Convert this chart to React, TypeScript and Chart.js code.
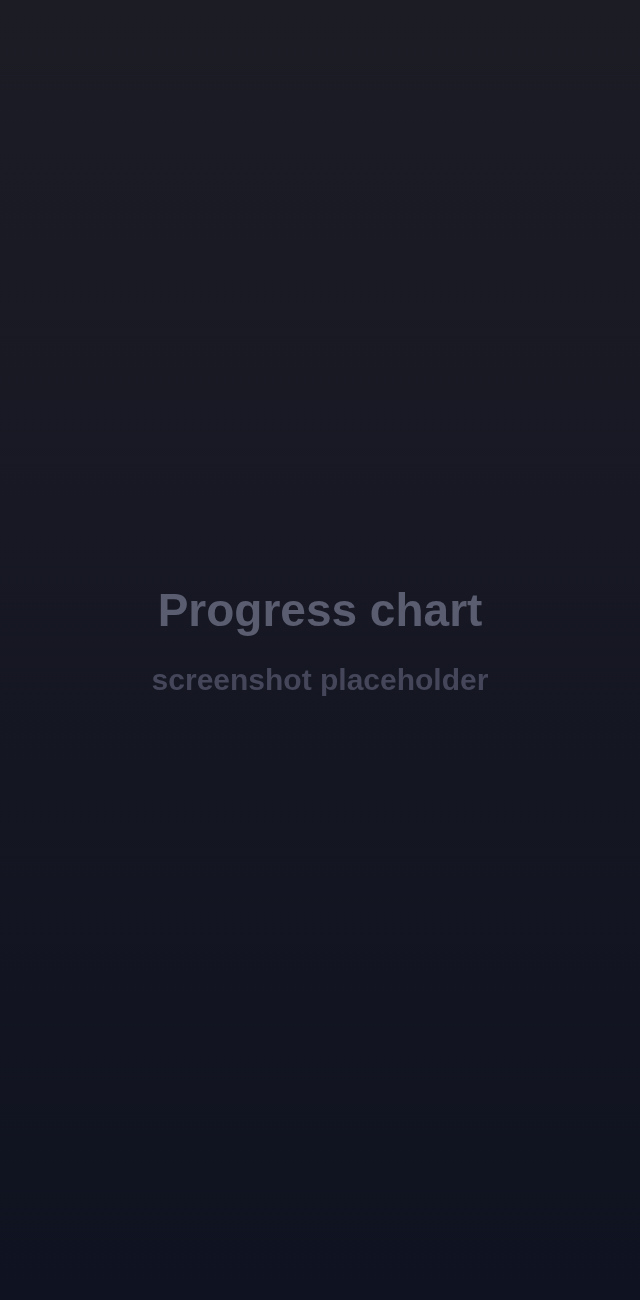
import { useEffect, useRef } from 'react';
import Chart from 'chart.js/auto';

// the reference is only a placeholder card: no series are drawn yet
const categories: string[] = [];
const progressValues: number[] = [];

const titleText = 'Progress chart';
const subtitleText = 'screenshot placeholder';

const bgTop = '#1c1c25';
const bgBottom = '#0f1220';

const backgroundPlugin = {
  id: 'gradientBackground',
  beforeDraw(chart: Chart) {
    const { ctx, width, height } = chart;
    const grad = ctx.createLinearGradient(0, 0, 0, height);
    grad.addColorStop(0, bgTop);
    grad.addColorStop(1, bgBottom);
    ctx.save();
    ctx.fillStyle = grad;
    ctx.fillRect(0, 0, width, height);
    ctx.restore();
  },
};

export default function App() {
  const chartRef = useRef<HTMLCanvasElement>(null);

  useEffect(() => {
    document.body.style.margin = '0';
    document.body.style.background = bgBottom;
    if (!chartRef.current) return;

    const chart = new Chart(chartRef.current, {
      type: 'bar',
      data: {
        labels: categories,
        datasets: [{ label: 'Progress', data: progressValues }],
      },
      options: {
        responsive: true,
        maintainAspectRatio: false,
        animation: false,
        scales: {
          x: { display: false },
          y: { display: false },
        },
        plugins: {
          legend: { display: false },
          tooltip: { enabled: false },
          title: {
            display: true,
            text: titleText,
            color: '#5a5c70',
            font: { family: '"Liberation Sans", Arial, sans-serif', size: 46, weight: 'bold', lineHeight: 1.2 },
            padding: { top: 586, bottom: 0 },
          },
          subtitle: {
            display: true,
            text: subtitleText,
            color: '#45465a',
            font: { family: '"Liberation Sans", Arial, sans-serif', size: 30, weight: 'bold', lineHeight: 1.2 },
            padding: { top: 23, bottom: 0 },
          },
        },
      },
      plugins: [backgroundPlugin],
    });

    return () => chart.destroy();
  }, []);

  return (
    <div style={{ width: 640, height: 1300, position: 'relative' }}>
      <canvas ref={chartRef} />
    </div>
  );
}
